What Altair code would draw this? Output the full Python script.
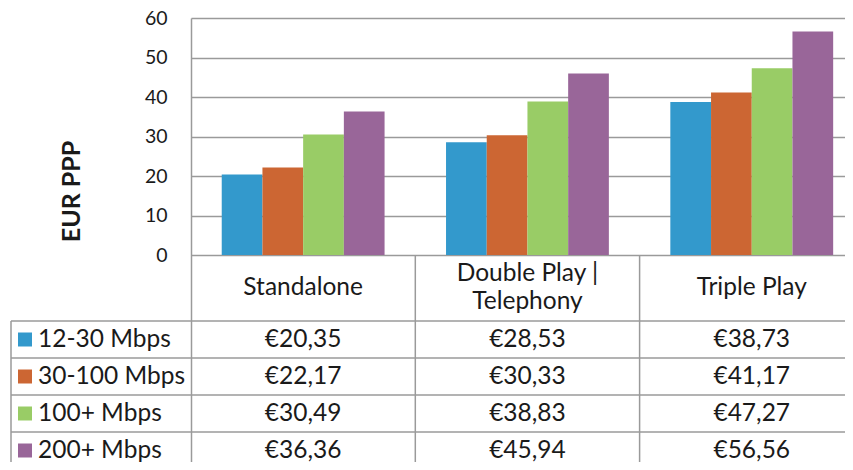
import altair as alt
import pandas as pd

# ---------------- data ----------------
categories = ["Standalone", "Double Play |\nTelephony", "Triple Play"]
series = ["12-30 Mbps", "30-100 Mbps", "100+ Mbps", "200+ Mbps"]
colors = ["#3399CC", "#CC6633", "#99CC66", "#996699"]
speed_12_30 = [20.35, 28.53, 38.73]
speed_30_100 = [22.17, 30.33, 41.17]
speed_100 = [30.49, 38.83, 47.27]
speed_200 = [36.36, 45.94, 56.56]
y_ticks = [0, 10, 20, 30, 40, 50, 60]
y_title = "EUR PPP"

series_values = [speed_12_30, speed_30_100, speed_100, speed_200]

# ---------------- layout (scale units) ----------------
PLOT_W = 654
PLOT_H = 444
COL_PX = 224.3                     # pixel width of one category column
PX_PER_UNIT = 3.95                 # pixels per y unit
X_MAX = PLOT_W / COL_PX            # visible part of the 3 category columns
GAP = 0.137                        # space before first bar in a column
BAR_W = 0.1815                     # bar width
LEGEND_LEFT = -180 / COL_PX        # left border of the legend column
Y_MIN = 60 - PLOT_H / PX_PER_UNIT  # bottom of the drawing area (table region)
HEADER_Y = -33 / PX_PER_UNIT       # centre of header row
HEADER_LINE = 28 / PX_PER_UNIT     # header line height
HEADER_BOTTOM = -66 / PX_PER_UNIT
ROW_H = 37.0 / PX_PER_UNIT
SQUARE_X = -166 / COL_PX
LABEL_X = -153 / COL_PX

FONT = "Lato"
TEXT_COLOR = "#1a1a1a"
LINE_COLOR = "#9a9a9a"
TEXT_SIZE = 24.5

# bars
bar_rows = []
for ci, cat in enumerate(categories):
    for si, s in enumerate(series):
        x0 = ci + GAP + si * BAR_W
        bar_rows.append({"series": s, "x": x0, "x2": x0 + BAR_W,
                         "value": series_values[si][ci]})
bars_df = pd.DataFrame(bar_rows)

# horizontal table lines
hlines = []
for k in range(5):
    hlines.append({"y": HEADER_BOTTOM - k * ROW_H, "x": LEGEND_LEFT, "x2": 3.0})
hlines_df = pd.DataFrame(hlines)

# vertical table lines
vlines_df = pd.DataFrame([
    {"x": LEGEND_LEFT, "y": HEADER_BOTTOM, "y2": Y_MIN},
    {"x": 1.0, "y": 0.0, "y2": Y_MIN},
    {"x": 2.0, "y": 0.0, "y2": Y_MIN},
])

# header text (multi-line labels: first line placed so the block is centred)
header_df = pd.DataFrame([
    {"x": ci + 0.5,
     "y": HEADER_Y + (c.count("\n")) * HEADER_LINE / 2,
     "label": c}
    for ci, c in enumerate(categories)])

# values text
val_rows = []
for si, s in enumerate(series):
    yc = HEADER_BOTTOM - (si + 0.5) * ROW_H
    for ci, c in enumerate(categories):
        v = series_values[si][ci]
        val_rows.append({"x": ci + 0.5, "y": yc,
                         "label": "€" + f"{v:.2f}".replace(".", ",")})
vals_df = pd.DataFrame(val_rows)

# legend column
leg_df = pd.DataFrame([{"series": s, "y": HEADER_BOTTOM - (si + 0.5) * ROW_H,
                        "sx": SQUARE_X, "lx": LABEL_X}
                       for si, s in enumerate(series)])

# ---------------- scales ----------------
xs = alt.Scale(domain=[0, X_MAX], nice=False, zero=False)
ys = alt.Scale(domain=[Y_MIN, 60], nice=False, zero=False)
cs = alt.Scale(domain=series, range=colors)

yaxis = alt.Axis(values=y_ticks, grid=True, gridColor=LINE_COLOR, gridWidth=1.5,
                 domainColor=LINE_COLOR, domainWidth=1.5, ticks=False, tickSize=0,
                 labelFont=FONT, labelFontSize=19.5, labelColor=TEXT_COLOR,
                 labelPadding=24, title=y_title, titleFont=FONT, titleFontSize=25,
                 titleFontWeight="bold", titleColor=TEXT_COLOR, titleAngle=270,
                 titleX=-120, titleY=173, titleAlign="center", titleBaseline="middle")

bars = alt.Chart(bars_df).mark_bar().encode(
    x=alt.X("x:Q", scale=xs, axis=None),
    x2="x2:Q",
    y=alt.Y("value:Q", scale=ys, axis=yaxis),
    y2=alt.datum(0),
    color=alt.Color("series:N", scale=cs, legend=None),
)

hl = alt.Chart(hlines_df).mark_rule(color=LINE_COLOR, strokeWidth=1.5).encode(
    x=alt.X("x:Q", scale=xs), x2="x2:Q", y=alt.Y("y:Q", scale=ys))

vl = alt.Chart(vlines_df).mark_rule(color=LINE_COLOR, strokeWidth=1.5).encode(
    x=alt.X("x:Q", scale=xs), y=alt.Y("y:Q", scale=ys), y2="y2:Q")

header = alt.Chart(header_df).mark_text(
    font=FONT, fontSize=TEXT_SIZE, color=TEXT_COLOR, lineBreak="\n", lineHeight=28,
    align="center", baseline="middle").encode(
    x=alt.X("x:Q", scale=xs), y=alt.Y("y:Q", scale=ys), text="label:N")

vals = alt.Chart(vals_df).mark_text(
    font=FONT, fontSize=TEXT_SIZE, color=TEXT_COLOR, align="center", baseline="middle").encode(
    x=alt.X("x:Q", scale=xs), y=alt.Y("y:Q", scale=ys), text="label:N")

squares = alt.Chart(leg_df).mark_square(size=196, opacity=1).encode(
    x=alt.X("sx:Q", scale=xs), y=alt.Y("y:Q", scale=ys),
    color=alt.Color("series:N", scale=cs, legend=None))

leg_text = alt.Chart(leg_df).mark_text(
    font=FONT, fontSize=TEXT_SIZE, color=TEXT_COLOR, align="left", baseline="middle").encode(
    x=alt.X("lx:Q", scale=xs), y=alt.Y("y:Q", scale=ys), text="series:N")

chart = alt.layer(bars, hl, vl, header, vals, squares, leg_text).properties(
    width=PLOT_W, height=PLOT_H,
    autosize=alt.AutoSizeParams(type="none"),
    padding={"left": 183, "top": 10, "right": 0, "bottom": 0},
).configure_view(stroke=None)

chart.save("out.html", embed_options={"renderer": "svg", "actions": False})
